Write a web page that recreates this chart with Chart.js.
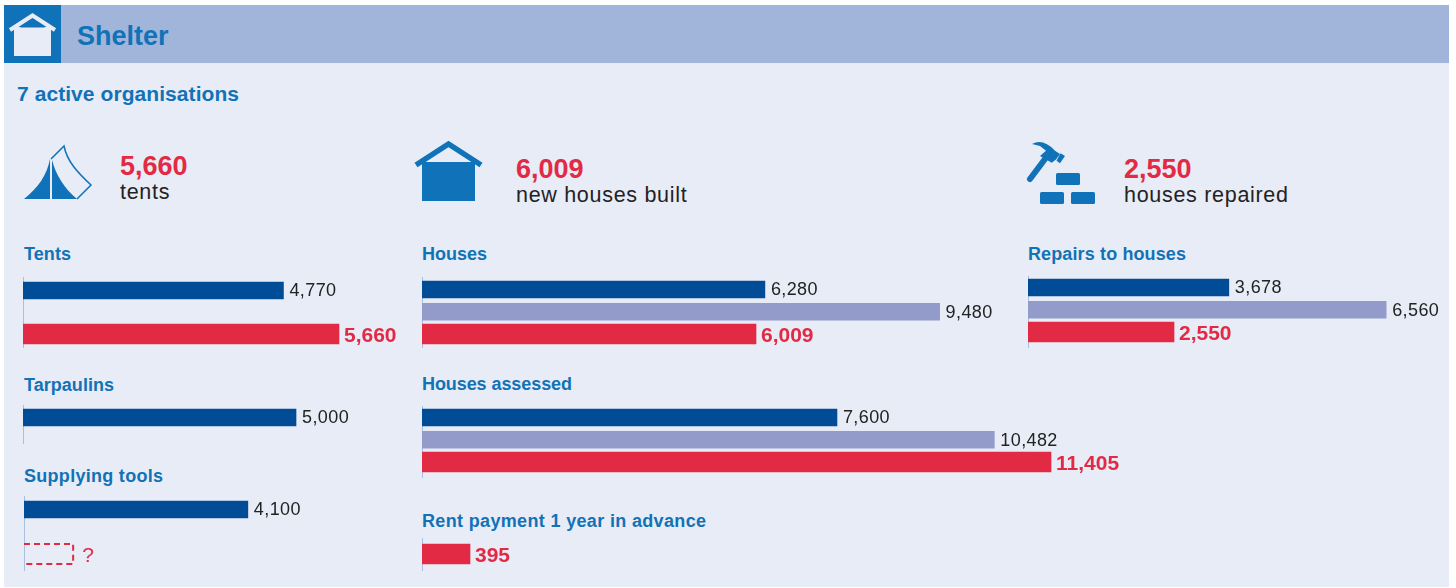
<!DOCTYPE html>
<html>
<head>
<meta charset="utf-8">
<title>Shelter</title>
<script src="https://cdn.jsdelivr.net/npm/chart.js@4"></script>
<style>
    html, body {margin: 0; background: #fff;}
    #page {position: relative; width: 1456px; height: 588px; overflow: hidden;}
    #panel {position: absolute; left: 4px; top: 5px; width: 1445px; height: 582px; background: #e8ecf7;}
    #band {position: absolute; left: 4px; top: 5px; width: 1445px; height: 58px; background: #a1b5db;}
    svg {position: absolute; left: 0; top: 0;}
    canvas {position: absolute;}
    text {font-family: "Liberation Sans", Arial, sans-serif;}
    .head {font-weight: 700; font-size: 18px; fill: #1272b6;}
    .big {font-weight: 700; font-size: 27px; fill: #e22a45;}
    .sub {font-size: 21.5px; fill: #222; letter-spacing: .7px;}
</style>
</head>
<body>
<div id="page">
    <div id="panel"></div>
    <div id="band"></div>
    <svg width="1456" height="588">
        <!-- header -->
        <rect x="4" y="5" width="57" height="58" fill="#1072b8"/>
        <path d="M14 27H51V56H14Z" fill="#e8ecf7"/>
        <path d="M10 30L32.500 15.500L55 30" fill="none" stroke="#e8ecf7" stroke-width="4"/>
        <path d="M20 27.500H45L32.500 19Z" fill="#1072b8"/>
        <text x="77" y="45" font-size="27" font-weight="700" fill="#1272b6">Shelter</text>
        <text x="17" y="101" font-size="21" font-weight="700" fill="#1272b6" textLength="222">7 active organisations</text>

        <!-- tent -->
        <path d="M50 159V199H24C38 188 47 175 50 159Z" fill="#1072b8"/>
        <path d="M52 160V199H77C64 188 56 175 52 160Z" fill="#1072b8"/>
        <path d="M51 159L64 146C67 161 77 172 91 185L77 199" fill="none" stroke="#1072b8" stroke-width="1.500"/>
        <text class="big" x="120" y="175">5,660</text>
        <text class="sub" x="120" y="199">tents</text>

        <!-- house -->
        <path d="M422 162H475V201H422Z" fill="#1072b8"/>
        <path d="M416 165L448.500 144L481 165" fill="none" stroke="#1072b8" stroke-width="5.500"/>
        <path d="M427 162H469L448.500 148Z" fill="#e8ecf7"/>
        <text class="big" x="516" y="178">6,009</text>
        <text class="sub" x="516" y="202">new houses built</text>

        <!-- hammer and bricks -->
        <path d="M1030 179L1045 159" stroke="#1072b8" stroke-width="6" stroke-linecap="round"/>
        <path d="M1032 144Q1043 138 1055 150.700L1060 154L1056 159.500L1051.700 162.700L1040 156L1046 150.700L1040 146Z" fill="#1072b8"/>
        <path d="M1060.500 153.300L1065 156L1060 163.300L1056.500 160.700Z" fill="#1072b8"/>
        <rect x="1056" y="173" width="24" height="12" rx="1.500" fill="#1072b8"/>
        <rect x="1040" y="192" width="24" height="12" rx="1.500" fill="#1072b8"/>
        <rect x="1071" y="192" width="24" height="12" rx="1.500" fill="#1072b8"/>
        <text class="big" x="1124" y="178">2,550</text>
        <text class="sub" x="1124" y="202">houses repaired</text>

        <!-- chart titles -->
        <text class="head" x="24" y="260" textLength="47">Tents</text>
        <text class="head" x="24" y="391" textLength="90">Tarpaulins</text>
        <text class="head" x="24" y="482" textLength="139">Supplying tools</text>
        <text class="head" x="422" y="260" textLength="65">Houses</text>
        <text class="head" x="422" y="390" textLength="150">Houses assessed</text>
        <text class="head" x="422" y="527" textLength="284">Rent payment 1 year in advance</text>
        <text class="head" x="1028" y="260" textLength="158">Repairs to houses</text>
    </svg>

    <canvas id="tents" width="385" height="71" style="left:23px;top:277px"></canvas>
    <canvas id="tarpaulins" width="385" height="39" style="left:23px;top:405px"></canvas>
    <canvas id="tools" width="385" height="75" style="left:24px;top:496px"></canvas>
    <canvas id="houses" width="590" height="71" style="left:422px;top:277px"></canvas>
    <canvas id="assessed" width="720" height="72" style="left:422px;top:406px"></canvas>
    <canvas id="rent" width="300" height="33" style="left:422px;top:538px"></canvas>
    <canvas id="repairs" width="420" height="72" style="left:1028px;top:276px"></canvas>
</div>

<script>
const threeRows = ['Earlier', 'Planned', 'Reached']
const oneRow = ['Reached']

const tentsEarlier = [4770, null, null]
const tentsReached = [null, null, 5660]
const tarpaulinsEarlier = [5000]
const toolsEarlier = [4100, null, null]
const toolsUnknown = [null, null, 900]
const housesEarlier = [6280, 9480, null]
const housesReached = [null, null, 6009]
const assessedEarlier = [7600, 10482, null]
const assessedReached = [null, null, 11405]
const rentReached = [395]
const repairsEarlier = [3678, 6560, null]
const repairsReached = [null, null, 2550]

const NAVY = '#004c97'
const LAVENDER = '#929bc9'
const RED = '#e22a45'
const FONT = '"Liberation Sans", Arial, sans-serif'

// px per unit of the plain bars, the red bars in the picture run a little longer
const PX_PER_UNIT = 0.0546

const axisLine = {
    id: 'axisLine',
    beforeDatasetsDraw(chart) {
        const ctx = chart.ctx
        ctx.save()
        ctx.strokeStyle = '#a9bfe0'
        ctx.lineWidth = 1
        ctx.beginPath()
        ctx.moveTo(0.5, 0)
        ctx.lineTo(0.5, chart.height)
        ctx.stroke()
        ctx.restore()
    }
}

const barLabels = {
    id: 'barLabels',
    afterDatasetsDraw(chart) {
        const ctx = chart.ctx
        ctx.save()
        ctx.textBaseline = 'middle'
        chart.data.datasets.forEach((set, i) => {
            chart.getDatasetMeta(i).data.forEach((el, j) => {
                if (set.data[j] == null) return
                if (set.unknown) {
                    // dashed outline, open on the axis side
                    const top = Math.round(el.y) - 10
                    ctx.strokeStyle = RED
                    ctx.lineWidth = 2
                    ctx.setLineDash([6, 4])
                    ctx.beginPath()
                    ctx.moveTo(0, top)
                    ctx.lineTo(el.x, top)
                    ctx.lineTo(el.x, top + 20)
                    ctx.lineTo(0, top + 20)
                    ctx.stroke()
                    ctx.setLineDash([])
                    ctx.font = `21px ${FONT}`
                    ctx.fillStyle = RED
                    ctx.fillText('?', el.x + 9, el.y + 3)
                    return
                }
                ctx.font = set.strong ? `700 21px ${FONT}` : `18px ${FONT}`
                ctx.letterSpacing = set.strong ? '0px' : '0.4px'
                ctx.fillStyle = set.strong ? RED : '#222'
                const text = set.data[j].toLocaleString('en-US')
                ctx.fillText(text, el.x + (set.strong ? 5 : 6), el.y + (set.strong ? 2 : 1))
            })
        })
        ctx.restore()
    }
}

function makePanel(id, labels, datasets, padding, redPxPerUnit) {
    const canvas = document.getElementById(id)
    const width = canvas.width
    return new Chart(canvas, {
        type: 'bar',
        plugins: [axisLine, barLabels],
        data: {labels, datasets},
        options: {
            indexAxis: 'y',
            responsive: false,
            animation: false,
            layout: {padding},
            datasets: {bar: {grouped: false, borderWidth: 0}},
            plugins: {legend: {display: false}, tooltip: {enabled: false}},
            scales: {
                x: {display: false, min: 0, max: width / PX_PER_UNIT},
                xRed: {display: false, axis: 'x', min: 0, max: width / (redPxPerUnit || PX_PER_UNIT)},
                y: {display: false}
            }
        }
    })
}

function earlier(data) {
    return {data, barThickness: 17, backgroundColor: [NAVY, LAVENDER, RED]}
}

function reached(data) {
    return {data, barThickness: 20, backgroundColor: RED, xAxisID: 'xRed', strong: true}
}

makePanel('tents', threeRows, [earlier(tentsEarlier), reached(tentsReached)], {top: 2.6, bottom: 3.1}, 316 / 5660)
makePanel('tarpaulins', oneRow, [earlier(tarpaulinsEarlier)], {bottom: 14})
makePanel('tools', threeRows, [earlier(toolsEarlier), {data: toolsUnknown, barThickness: 20, backgroundColor: 'transparent', unknown: true}], {top: 2.5, bottom: 6.5})
makePanel('houses', threeRows, [earlier(housesEarlier), reached(housesReached)], {top: 1.4, bottom: 2.9}, 334 / 6009)
makePanel('assessed', threeRows, [earlier(assessedEarlier), reached(assessedReached)], {top: 0.4, bottom: 4.9}, 629 / 11405)
makePanel('rent', oneRow, [reached(rentReached)], {bottom: 1}, 48 / 395)
makePanel('repairs', threeRows, [earlier(repairsEarlier), reached(repairsReached)], {top: 0.4, bottom: 4.9}, 146 / 2550)
</script>
</body>
</html>
